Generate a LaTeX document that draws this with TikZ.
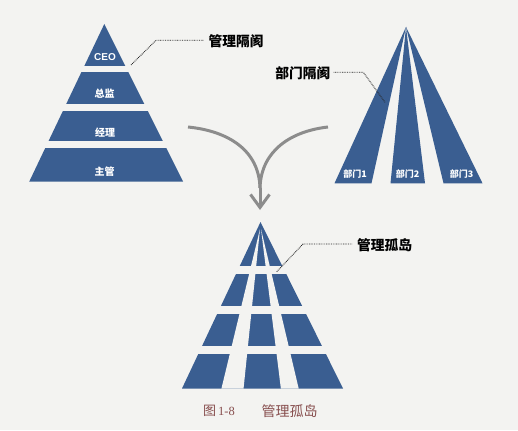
\documentclass[tikz,border=0pt]{standalone}
\usepackage{fontspec}
\setmainfont{Liberation Serif}
\newfontfamily\cjk{Noto Sans CJK SC}
\newfontfamily\arial{Liberation Sans}
\usetikzlibrary{arrows.meta}
\definecolor{pyblue}{RGB}{58,94,145}
\definecolor{paper}{RGB}{243,243,241}
\definecolor{arrowgray}{RGB}{140,140,140}
\definecolor{capred}{RGB}{135,78,78}
\begin{document}
\begin{tikzpicture}[x=1pt,y=-1pt,
  lbl/.style={text=white,font=\cjk\bfseries\fontsize{10}{12}\selectfont,inner sep=0pt},
  dlbl/.style={text=white,font=\cjk\bfseries\fontsize{9}{11}\selectfont,inner sep=0pt},
  call/.style={font=\cjk\bfseries\fontsize{13.75}{16}\selectfont,inner sep=0pt},
  callline/.style={draw=black!85,line width=0.9pt,dash pattern=on 0.8pt off 0.9pt},
  blk/.style={fill=pyblue},
  flow/.style={draw=arrowgray,line width=3pt}
]
\fill[paper] (0,0) rectangle (518,430);
\useasboundingbox (0,0) rectangle (518,430);

% left pyramid
\begin{scope}
  \clip (104.3,24) -- (183.15,181.7) -- (29.2,181.7) -- cycle;
  \fill[blk] (0,20) rectangle (200,65.7);
  \fill[blk] (0,72.3) rectangle (200,104.3);
  \fill[blk] (0,110.8) rectangle (200,140.7);
  \fill[blk] (0,148.3) rectangle (200,181.7);
\end{scope}
\node[lbl,font=\arial\bfseries\fontsize{10}{12}\selectfont] (ceo) at (105,57.3) {CEO};
\node[lbl] (zj) at (104.5,94) {总监};
\node[lbl] (jl) at (105,132.3) {经理};
\node[lbl] (zg) at (104.5,171.7) {主管};

% callout 1
\node[call,anchor=west] (t1) at (208.5,41.5) {管理隔阂};
\coordinate (c1a) at (131,65);
\coordinate (c1b) at (156,40.3);
\draw[callline] (c1a) -- (c1b) -- ([xshift=-5pt]t1.west |- c1b);

% right fan
\fill[blk] (406,27) -- (371.5,183.3) -- (334.5,183.3) -- cycle;
\fill[blk] (406,27) -- (425,183.3) -- (390.5,183.3) -- cycle;
\fill[blk] (406,27) -- (482.5,183.3) -- (443.5,183.3) -- cycle;
\node[dlbl] (b1) at (355,174.3) {部门1};
\node[dlbl] (b2) at (407.5,174.3) {部门2};
\node[dlbl] (b3) at (461.5,174.3) {部门3};

% callout 2
\node[call,anchor=east] (t2) at (330.5,73) {部门隔阂};
\coordinate (c2b) at (363.3,72.3);
\coordinate (c2c) at (385,102.3);
\draw[callline] ([xshift=3pt]t2.east |- c2b) -- (c2b) -- (c2c);

% merging arrow
\coordinate (m) at (260,188);
\coordinate (al) at (188,127);
\coordinate (ar) at (328,127);
\coordinate (tip) at (260,210);
\draw[flow] (al) .. controls (228,131) and (259,150) .. (m);
\draw[flow] (ar) .. controls (292,131) and (261,150) .. (m);
\draw[flow,-{Straight Barb[length=13pt,width=19pt]}] (m) -- (tip);

% bottom pyramid
\begin{scope}
  \clip (260.5,222) -- (343,388.5) -- (182,388.5) -- cycle;
  \fill[blk] (150,215) rectangle (360,266);
  \fill[blk] (150,274) rectangle (360,305.5);
  \fill[blk] (150,314) rectangle (360,346);
  \fill[blk] (150,354) rectangle (360,388.5);
  \fill[paper] (260,229) -- (243.2,392) -- (220.6,392) -- cycle;
  \fill[paper] (261,229) -- (281.3,392) -- (299.5,392) -- cycle;
\end{scope}

% callout 3
\node[call,anchor=west] (t3) at (357,245.5) {管理孤岛};
\coordinate (c3a) at (276.7,271.7);
\coordinate (c3b) at (303,244);
\draw[callline] (c3a) -- (c3b) -- ([xshift=-5pt]t3.west |- c3b);

% caption
\node[anchor=west,inner sep=0pt,text=capred] (cap1) at (203,411)
  {{\cjk\fontsize{13}{15}\selectfont 图}\hspace{2pt}{\fontsize{12.5}{15}\selectfont 1-8}};
\node[anchor=west,inner sep=0pt,text=capred,font=\cjk\fontsize{14}{16}\selectfont] (cap2) at (261.5,411) {管理孤岛};
\end{tikzpicture}
\end{document}
